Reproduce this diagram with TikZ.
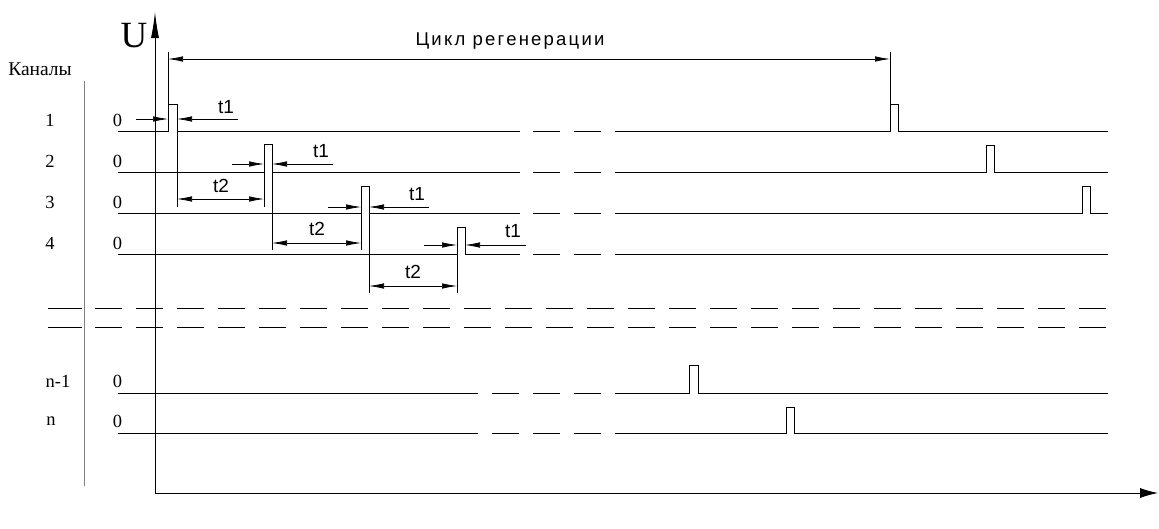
\documentclass[tikz,border=0pt]{standalone}
\usepackage{fontspec}
\setmainfont{Liberation Serif}
\newfontfamily\dimfont[LetterSpace=12]{Liberation Sans}
\newfontfamily\tfont{Liberation Sans}
\usetikzlibrary{arrows.meta}
\begin{document}
\begin{tikzpicture}[x=1pt,y=-1pt,
  sig/.style={line width=0.9pt},
  ext/.style={line width=0.7pt},
  dimarr/.style={line width=0.7pt, -{Latex[length=15pt,width=5.5pt]}},
  dimboth/.style={line width=0.7pt, {Latex[length=15pt,width=5.5pt]}-{Latex[length=15pt,width=5.5pt]}},
  lbl/.style={inner sep=0pt, font=\fontsize{18.5}{18.5}\selectfont},
  dlbl/.style={inner sep=0pt, font=\tfont\fontsize{19}{19}\selectfont},
  ]
\useasboundingbox (0,0) rectangle (1159,528);

% axes
\coordinate (O) at (155,493);
\coordinate (Ytop) at (155,12);
\coordinate (Xend) at (1158,493);
\draw[line width=0.9pt, -{Latex[length=26pt,width=8pt]}] (O) -- (Ytop);
\draw[line width=0.9pt, -{Latex[length=18pt,width=10pt]}] (O) -- (Xend);
\node[inner sep=0pt, font=\fontsize{37}{37}\selectfont] (U) at (134,36) {U};

% channel column separator
\draw[gray, line width=1pt] (84,81) -- (84,486);
\node[lbl, font=\fontsize{19.5}{19.5}\selectfont] (kan) at (40,69) {Каналы};

% channel labels
\node[lbl] (c1) at (50,120) {1};
\node[lbl] (c2) at (50,161) {2};
\node[lbl] (c3) at (50,202) {3};
\node[lbl] (c4) at (50,243) {4};
\node[lbl] (cn1) at (58,381) {n-1};
\node[lbl] (cn) at (51,421) {n};
\foreach \y/\nm in {120/z1,161/z2,202/z3,243/z4,381/zn1,421/zn}
  \node[lbl] (\nm) at (117.5,\y) {0};

% channel 1
\draw[sig] (118,131) -- (168,131) -- (168,104) -- (177,104) -- (177,131) -- (520,131);
\draw[sig] (533,131) -- (560,131) (574,131) -- (601,131);
\draw[sig] (615,131) -- (890,131) -- (890,104) -- (898,104) -- (898,131) -- (1108,131);
% channel 2
\draw[sig] (118,172) -- (264,172) -- (264,144) -- (272,144) -- (272,172) -- (520,172);
\draw[sig] (533,172) -- (560,172) (574,172) -- (601,172);
\draw[sig] (615,172) -- (986,172) -- (986,145) -- (994,145) -- (994,172) -- (1108,172);
% channel 3
\draw[sig] (118,213) -- (361,213) -- (361,186) -- (369,186) -- (369,213) -- (520,213);
\draw[sig] (533,213) -- (560,213) (574,213) -- (601,213);
\draw[sig] (615,213) -- (1082,213) -- (1082,186) -- (1090,186) -- (1090,213) -- (1108,213);
% channel 4
\draw[sig] (118,254) -- (457,254) -- (457,227) -- (465,227) -- (465,254) -- (520,254);
\draw[sig] (533,254) -- (560,254) (574,254) -- (601,254);
\draw[sig] (615,254) -- (1108,254);

% separator dashes
\foreach \y in {308,327} {
  \draw[sig] (48,\y) -- (82,\y);
  \foreach \k in {0,...,24}
    \draw[sig] ({95+41*\k},\y) -- ({122+41*\k},\y);
}

% channel n-1
\draw[sig] (118,393) -- (478,393);
\draw[sig] (492,393) -- (519,393) (533,393) -- (560,393) (574,393) -- (601,393);
\draw[sig] (615,393) -- (689,393) -- (689,365) -- (698,365) -- (698,393) -- (1108,393);
% channel n
\draw[sig] (118,433) -- (478,433);
\draw[sig] (492,433) -- (519,433) (533,433) -- (560,433) (574,433) -- (601,433);
\draw[sig] (615,433) -- (786,433) -- (786,407) -- (794,407) -- (794,433) -- (1108,433);

% extension lines
\draw[ext] (168,104) -- (168,52);
\draw[ext] (890,104) -- (890,52);
\draw[ext] (177,131) -- (177,207);
\draw[ext] (264,172) -- (264,207);
\draw[ext] (272,172) -- (272,250);
\draw[ext] (361,213) -- (361,250);
\draw[ext] (369,213) -- (369,293);
\draw[ext] (457,254) -- (457,293);

% cycle dimension
\coordinate (cyA) at (168,59);
\coordinate (cyB) at (890,59);
\draw[dimboth] (cyA) -- (cyB);
\node[inner sep=0pt, font=\dimfont\fontsize{18.5}{18.5}\selectfont] (cyc) at (510,41) {Цикл регенерации};

% t1 dimensions
\foreach \y/\a/\b/\c/\d/\lx/\ly/\nm in {
   119/136/168/238/177/226/107/ta,
   164/232/264/333/272/321/151/tb,
   207/328/361/429/369/417/194/tc,
   245/424/457/526/465/513/231/td} {
  \coordinate (\nm L) at (\a,\y);
  \coordinate (\nm l) at (\b,\y);
  \coordinate (\nm R) at (\c,\y);
  \coordinate (\nm r) at (\d,\y);
  \draw[dimarr] (\nm L) -- (\nm l);
  \draw[dimarr] (\nm R) -- (\nm r);
  \node[dlbl] (\nm t) at (\lx,\ly) {t1};
}

% t2 dimensions
\foreach \y/\a/\b/\lx/\ly/\nm in {
   199/177/264/221/186/sa,
   243/272/361/317/229/sb,
   286/369/457/413/272/sc} {
  \coordinate (\nm A) at (\a,\y);
  \coordinate (\nm B) at (\b,\y);
  \draw[dimboth] (\nm A) -- (\nm B);
  \node[dlbl] (\nm t) at (\lx,\ly) {t2};
}
\end{tikzpicture}
\end{document}
